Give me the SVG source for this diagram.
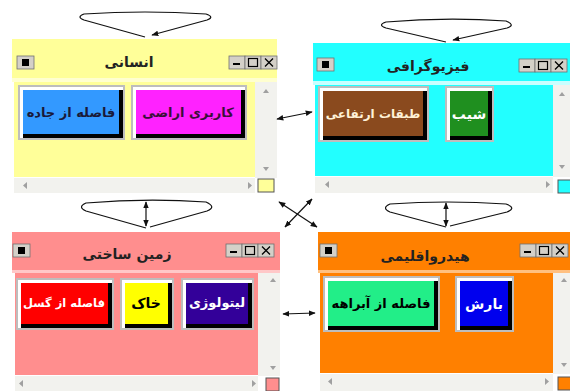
<svg xmlns="http://www.w3.org/2000/svg" xmlns:xlink="http://www.w3.org/1999/xlink" width="570" height="391" viewBox="0 0 570 391">
<style>
.title{font-family:"DejaVu Sans",sans-serif;font-weight:bold;font-size:14px;text-anchor:middle;fill:#222}
.btxt{font-family:"DejaVu Sans",sans-serif;font-weight:bold;font-size:13px;text-anchor:middle}
.big{font-size:14px}
.conn{stroke:#111;stroke-width:1.2;fill:none}
.ctl{fill:#D4D0C8;stroke:#707070;stroke-width:0.8}
.scroll{fill:#F2F2EE}
.sa{fill:#A0A0A0}
.frame{fill:#BDBDBD}
.hi{fill:#FFFFFF}
.sh{fill:#000000}
</style>
<defs>
<marker id="ah" viewBox="0 0 10 10" refX="9" refY="5" markerWidth="7" markerHeight="7" orient="auto-start-reverse" markerUnits="userSpaceOnUse">
<path d="M0,1 L10,5 L0,9 z" fill="#111"/>
</marker>
<g id="ctrls">
<rect class="ctl" x="0" y="0" width="16" height="13"/>
<rect x="4" y="7" width="7" height="2" fill="#000"/>
<rect class="ctl" x="16" y="0" width="16" height="13"/>
<rect x="19.5" y="2.5" width="9" height="8" fill="none" stroke="#000" stroke-width="1.2"/>
<rect class="ctl" x="32" y="0" width="16" height="13"/>
<path d="M36,2.5 L44,10.5 M44,2.5 L36,10.5" stroke="#000" stroke-width="1.3"/>
</g>
<g id="sysbtn">
<rect class="ctl" x="0" y="0" width="17" height="13"/>
<rect x="5" y="3" width="7" height="7" fill="#000"/>
</g>
</defs>
<rect width="570" height="391" fill="#FFFFFF"/>

<g id="node-ensani">
<rect x="12" y="39" width="265" height="39" fill="#FFFF99"/>
<rect x="12" y="78" width="265" height="4" fill="#FFFFD0"/>
<rect x="14" y="82" width="241" height="95" fill="#FFFF99"/>
<rect class="scroll" x="255" y="82" width="22" height="96"/>
<path class="sa" d="M263,93 L266,89 L269,93 z M263,167 L266,171 L269,167 z"/>
<rect class="scroll" x="14" y="178" width="241" height="15"/>
<path class="sa" d="M27,182 L23,185.5 L27,189 z M248,182 L252,185.5 L248,189 z"/>
<rect x="258" y="179" width="16" height="13" fill="#FFFF99" stroke="#555" stroke-width="1"/>
<use xlink:href="#sysbtn" x="17" y="56"/>
<use xlink:href="#ctrls" x="229" y="56"/>
<text class="title" x="129" y="67">انسانی</text>
<rect class="frame" x="18" y="85" width="107" height="55"/>
<rect class="hi" x="20" y="87" width="103" height="51"/>
<rect class="sh" x="23" y="90" width="100" height="48"/>
<rect x="23" y="90" width="96" height="44" fill="#3399FF"/>
<text class="btxt" x="71" y="117" fill="#1a1a3a">فاصله از جاده</text>
<rect class="frame" x="131" y="85" width="116" height="55"/>
<rect class="hi" x="133" y="87" width="112" height="51"/>
<rect class="sh" x="136" y="90" width="109" height="48"/>
<rect x="136" y="90" width="105" height="44" fill="#FF22FF"/>
<text class="btxt" x="188" y="117" fill="#3a103a">کاربری اراضی</text>
</g>

<g id="node-physiography">
<rect x="313" y="43" width="257" height="38" fill="#22FFFF"/>
<rect x="313" y="81" width="257" height="4" fill="#C8FFFF"/>
<rect x="315" y="85" width="238" height="91" fill="#22FFFF"/>
<rect class="scroll" x="553" y="85" width="17" height="92"/>
<path class="sa" d="M559,96 L562,92 L565,96 z M559,165 L562,169 L565,165 z"/>
<rect class="scroll" x="315" y="177" width="238" height="16"/>
<path class="sa" d="M329,181 L325,184.5 L329,188 z M546,181 L550,184.5 L546,188 z"/>
<rect x="558" y="180" width="13" height="13" fill="#22FFFF" stroke="#555" stroke-width="1"/>
<use xlink:href="#sysbtn" x="317" y="58"/>
<use xlink:href="#ctrls" x="519" y="59"/>
<text class="title" x="428" y="71">فیزیوگرافی</text>
<rect class="frame" x="318" y="86" width="111" height="56"/>
<rect class="hi" x="320" y="88" width="107" height="52"/>
<rect class="sh" x="323" y="91" width="104" height="49"/>
<rect x="323" y="91" width="100" height="45" fill="#8A4A1E"/>
<text class="btxt" x="373" y="118" fill="#FFF2D8" style="font-size:12px">طبقات ارتفاعی</text>
<rect class="frame" x="445" y="86" width="49" height="56"/>
<rect class="hi" x="447" y="88" width="45" height="52"/>
<rect class="sh" x="450" y="91" width="42" height="49"/>
<rect x="450" y="91" width="38" height="45" fill="#1F8F1F"/>
<text class="btxt big" x="469" y="119" fill="#FFFFFF">شیب</text>
</g>

<g id="node-zaminsakhti">
<rect x="12" y="232" width="268" height="38" fill="#FF8E8E"/>
<rect x="12" y="270" width="268" height="3" fill="#FFC8C8"/>
<rect x="15" y="273" width="243" height="102" fill="#FF8E8E"/>
<rect class="scroll" x="258" y="273" width="22" height="103"/>
<path class="sa" d="M270,282 L273,278 L276,282 z M270,366 L273,370 L276,366 z"/>
<rect class="scroll" x="15" y="376" width="243" height="15"/>
<path class="sa" d="M23,380 L19,383.5 L23,387 z M252,380 L256,383.5 L252,387 z"/>
<rect x="266" y="378" width="13" height="13" fill="#FF8E8E" stroke="#555" stroke-width="1"/>
<use xlink:href="#sysbtn" x="13" y="244"/>
<use xlink:href="#ctrls" x="226" y="244"/>
<text class="title" x="127" y="259">زمین ساختی</text>
<rect class="frame" x="16" y="278" width="98" height="52"/>
<rect class="hi" x="18" y="280" width="94" height="48"/>
<rect class="sh" x="21" y="283" width="91" height="45"/>
<rect x="21" y="283" width="87" height="41" fill="#FF0000"/>
<text class="btxt" x="64" y="307" fill="#FFFFFF" style="font-size:11.5px">فاصله از گسل</text>
<rect class="frame" x="120" y="278" width="54" height="52"/>
<rect class="hi" x="122" y="280" width="50" height="48"/>
<rect class="sh" x="125" y="283" width="47" height="45"/>
<rect x="125" y="283" width="43" height="41" fill="#FFFF00"/>
<text class="btxt big" x="146" y="308" fill="#000000">خاک</text>
<rect class="frame" x="181" y="278" width="73" height="52"/>
<rect class="hi" x="183" y="280" width="69" height="48"/>
<rect class="sh" x="186" y="283" width="66" height="45"/>
<rect x="186" y="283" width="62" height="41" fill="#330099"/>
<text class="btxt" x="217" y="307" fill="#FFFFFF">لیتولوژی</text>
</g>

<g id="node-hydroclimate">
<rect x="318" y="232" width="252" height="38" fill="#FF8000"/>
<rect x="318" y="270" width="252" height="3" fill="#FFC080"/>
<rect x="320" y="273" width="233" height="100" fill="#FF8000"/>
<rect class="scroll" x="553" y="273" width="17" height="101"/>
<path class="sa" d="M561,282 L564,278 L567,282 z M561,363 L564,367 L567,363 z"/>
<rect class="scroll" x="320" y="374" width="233" height="17"/>
<path class="sa" d="M332,378 L328,381.5 L332,385 z M545,378 L549,381.5 L545,385 z"/>
<rect x="558" y="377" width="13" height="13" fill="#FF8000" stroke="#555" stroke-width="1"/>
<use xlink:href="#sysbtn" x="320" y="244"/>
<use xlink:href="#ctrls" x="520" y="244"/>
<text class="title" x="425" y="261">هیدرواقلیمی</text>
<rect class="frame" x="323" y="276" width="117" height="56"/>
<rect class="hi" x="325" y="278" width="113" height="52"/>
<rect class="sh" x="328" y="281" width="110" height="49"/>
<rect x="328" y="281" width="106" height="45" fill="#22EE88"/>
<text class="btxt" x="381" y="308" fill="#000000">فاصله از آبراهه</text>
<rect class="frame" x="455" y="276" width="59" height="56"/>
<rect class="hi" x="457" y="278" width="55" height="52"/>
<rect class="sh" x="460" y="281" width="52" height="49"/>
<rect x="460" y="281" width="48" height="45" fill="#0000EE"/>
<text class="btxt big" x="484" y="309" fill="#FFFFFF">بارش</text>
</g>

<g id="connectors">
<path class="conn" marker-end="url(#ah)" d="M145,37 L84,20 Q76,17 84,14 Q145,10 206,14 Q215,17 207,20 L152,35"/>
<path class="conn" marker-end="url(#ah)" d="M446,42 L386,28 Q377,25 386,22 Q446,17 506,21 Q516,25 507,28 L453,40"/>
<path class="conn" d="M146,228 L86,211 Q77,207 86,203 Q146,198 206,202 Q217,207 207,211 L150,227"/>
<path class="conn" d="M446,227 L390,212 Q381,208 390,204 Q446,200 506,204 Q517,208 507,212 L450,226"/>
<line class="conn" x1="146" y1="202" x2="146" y2="226" marker-start="url(#ah)" marker-end="url(#ah)"/>
<line class="conn" x1="446" y1="203" x2="446" y2="226" marker-start="url(#ah)" marker-end="url(#ah)"/>
<line class="conn" x1="277" y1="119" x2="312" y2="112" marker-start="url(#ah)" marker-end="url(#ah)"/>
<line class="conn" x1="279" y1="202" x2="317" y2="227" marker-start="url(#ah)" marker-end="url(#ah)"/>
<line class="conn" x1="312" y1="199" x2="285" y2="227" marker-start="url(#ah)" marker-end="url(#ah)"/>
<line class="conn" x1="283" y1="314" x2="315" y2="313" marker-start="url(#ah)" marker-end="url(#ah)"/>
</g>
</svg>
